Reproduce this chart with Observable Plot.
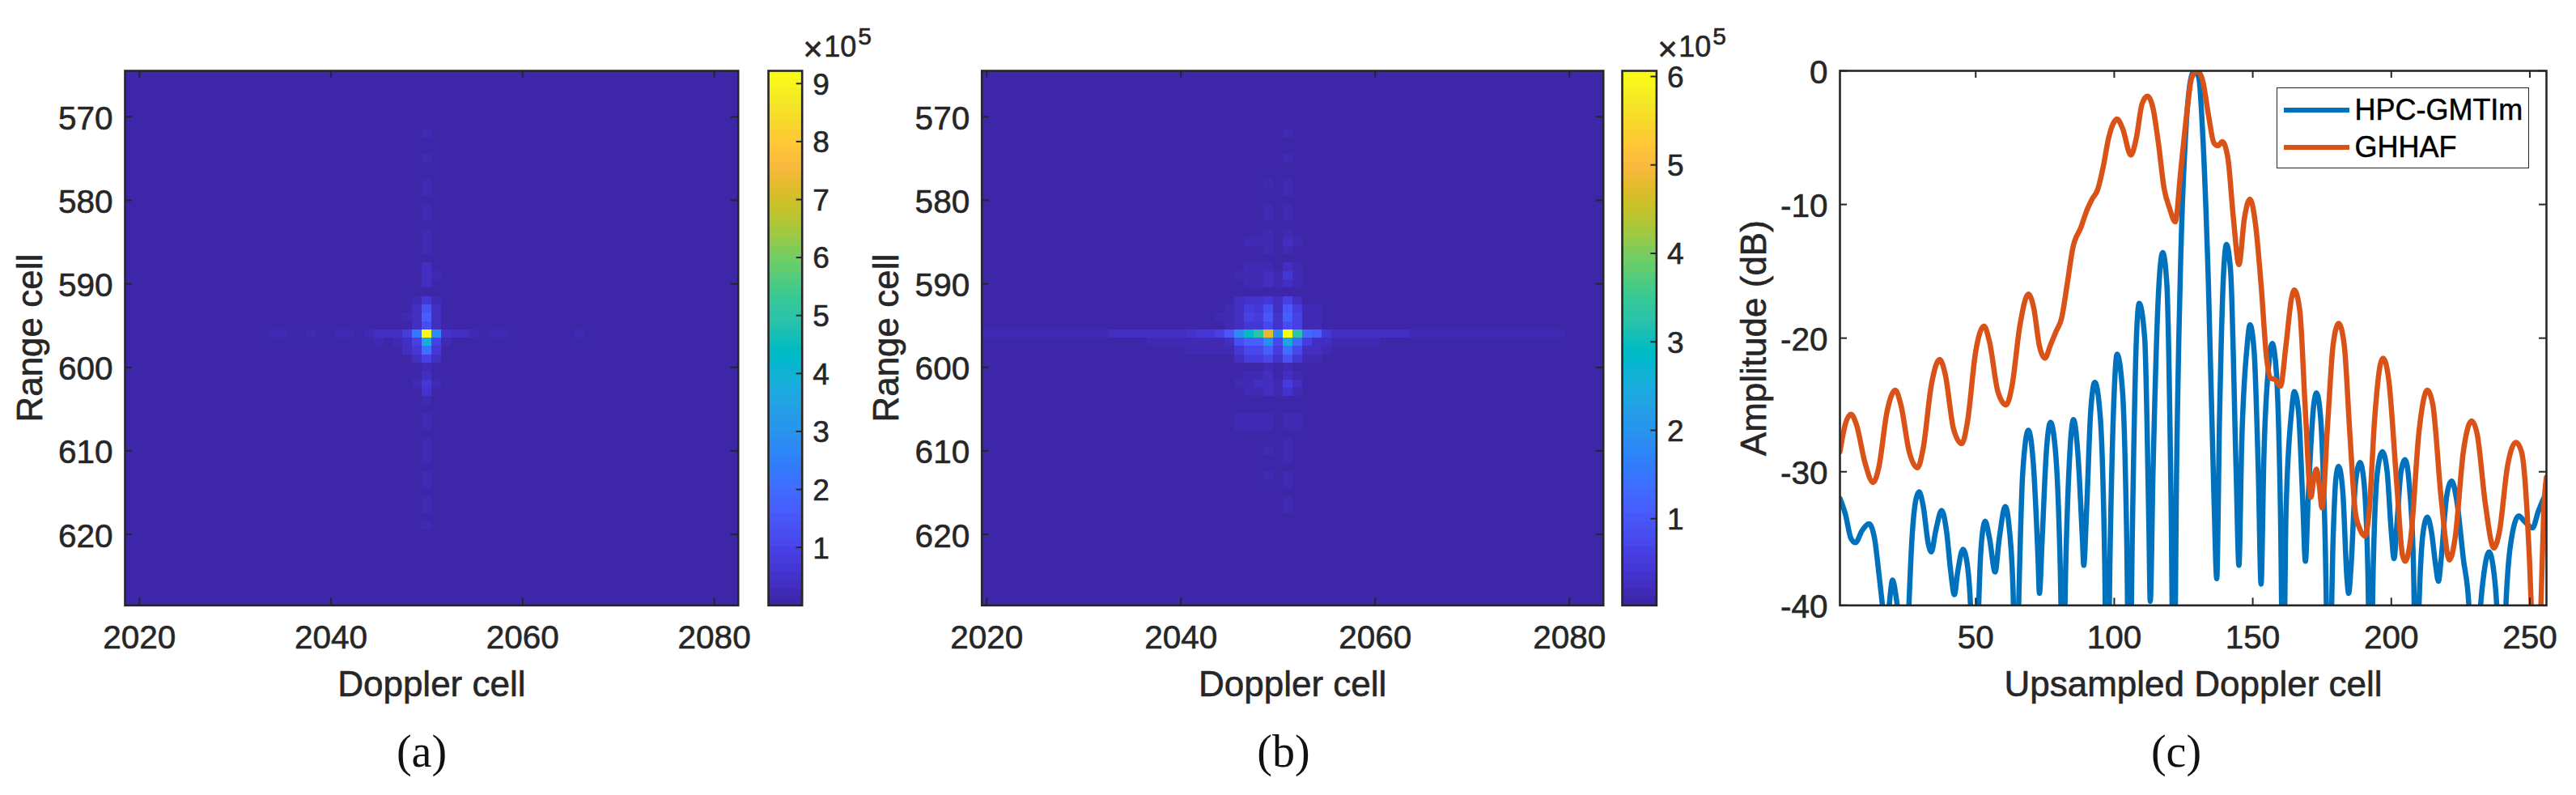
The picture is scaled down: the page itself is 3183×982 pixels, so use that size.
<!DOCTYPE html>
<html>
<head>
<meta charset="utf-8">
<script src="https://cdn.jsdelivr.net/npm/d3@7"></script>
<script src="https://cdn.jsdelivr.net/npm/@observablehq/plot@0.6"></script>
<style>
html,body{margin:0;padding:0;background:#fff;}
#page{position:relative;width:3183px;height:982px;overflow:hidden;background:#fff;font-family:"Liberation Sans",Arial,sans-serif;color:#262626;}
#page svg{position:absolute;background:transparent;overflow:visible;}
#page svg text{stroke:#262626;stroke-width:.6px;}
.t{position:absolute;white-space:nowrap;line-height:1;-webkit-text-stroke:.6px #262626;}
.t span{position:relative;line-height:0;}
.t.cap{font-family:"Liberation Serif",serif;font-size:56px;color:#111;transform:translate(-50%,-50%);-webkit-text-stroke:0;}
#legend{position:absolute;box-sizing:border-box;border:1.5px solid #262626;background:#fff;}
.lg{position:absolute;height:6.5px;}
.lt{position:absolute;font-size:36px;color:#000;line-height:1;white-space:nowrap;-webkit-text-stroke:.5px #000;}
</style>
</head>
<body>
<div id="page"></div>
<script>
// ---------- data ----------
const rangeCells = d3.range(565, 629);
const dopplerCellsA = d3.range(2019, 2083);
const dopplerCellsB = d3.range(2020, 2084);
const dopplerTicks = [2020, 2040, 2060, 2080];
const rangeTicks = [570, 580, 590, 600, 610, 620];
const upsampledTicks = [50, 100, 150, 200, 250];
const amplitudeTicks = [0, -10, -20, -30, -40];
const barTicksA = [1, 2, 3, 4, 5, 6, 7, 8, 9];
const barTicksB = [1, 2, 3, 4, 5, 6];
const backgroundLevel = 0.05;

// [Doppler cell, range cell, value x10^5]
const hotA = [
[2034,596,.16],[2035,596,.16],[2038,596,.16],[2041,596,.2],[2042,596,.2],[2044,596,.2],[2045,596,.3],[2046,596,.3],[2047,596,.4],[2048,596,.73],[2049,596,2.3],[2050,596,9.2],[2051,596,2.8],[2052,596,.5],[2053,596,.3],[2054,596,.3],[2055,596,.2],[2057,596,.2],[2058,596,.2],[2066,596,.16],
[2045,597,.25],[2047,597,.25],[2048,597,.4],[2049,597,.95],[2050,597,3.7],[2051,597,.95],[2052,597,.2],
[2048,598,.3],[2049,598,.6],[2050,598,2.05],[2051,598,.7],
[2049,599,.3],[2050,599,1.0],[2051,599,.35],
[2050,600,.2],[2050,601,.3],[2049,602,.2],[2050,602,.6],[2051,602,.2],[2050,603,.45],[2050,604,.22],
[2050,606,.17],[2050,607,.17],[2050,609,.16],[2050,610,.16],[2050,611,.16],[2050,613,.17],[2050,614,.17],[2050,616,.16],[2050,617,.16],[2050,619,.16],
[2049,595,.35],[2050,595,1.17],[2051,595,.4],
[2048,594,.2],[2049,594,.3],[2050,594,1.6],[2051,594,.4],
[2049,593,.3],[2050,593,1.4],[2051,593,.3],
[2049,592,.25],[2050,592,.66],[2051,592,.25],
[2050,590,.3],[2050,589,.42],[2051,589,.25],[2050,588,.32],[2050,586,.2],[2050,585,.2],[2050,584,.17],
[2050,582,.17],[2050,581,.17],[2050,579,.17],[2050,578,.17],[2050,575,.16],[2050,572,.16]
];

// [Doppler cell, value x10^5] along range cell 596
const ridgeB = [
[2020,.14],[2021,.14],[2022,.14],[2023,.14],[2024,.14],[2025,.14],[2026,.14],[2027,.14],[2028,.14],[2029,.14],[2030,.14],[2031,.14],[2032,.14],
[2033,.24],[2034,.24],[2035,.24],[2036,.24],[2037,.24],[2038,.3],[2039,.3],[2040,.3],[2041,.35],[2042,.4],[2043,.4],[2044,.6],[2045,1.0],[2046,1.85],[2047,2.9],[2048,3.3],[2049,4.8],[2050,1.85],[2051,6.05],[2052,3.3],[2053,1.25],[2054,1.15],[2055,.45],[2056,.3],[2057,.3],[2058,.3],[2059,.24],[2060,.24],[2061,.24],[2062,.24],[2063,.24],
[2064,.14],[2065,.14],[2066,.14],[2067,.14],[2068,.14],[2069,.14],[2070,.14],[2071,.14],[2072,.14],[2073,.14],[2074,.14],[2075,.14],[2076,.14],[2077,.14],[2078,.14],[2079,.14]
];
const hotB = [
[2037,597,.15],[2038,597,.15],[2039,597,.15],[2040,597,.15],[2041,597,.15],[2042,597,.2],[2043,597,.2],[2044,597,.2],[2045,597,.3],[2046,597,.8],[2047,597,1.15],[2048,597,1.15],[2049,597,1.85],[2050,597,.7],[2051,597,2.3],[2052,597,1.25],[2053,597,.5],[2054,597,.3],[2055,597,.25],[2056,597,.12],[2057,597,.12],[2058,597,.12],[2059,597,.12],[2060,597,.12],
[2041,598,.15],[2042,598,.15],[2043,598,.15],[2044,598,.15],[2045,598,.2],[2046,598,.4],[2047,598,.75],[2048,598,.75],[2049,598,1.15],[2050,598,.55],[2051,598,1.35],[2052,598,.75],[2053,598,.3],[2054,598,.25],[2055,598,.2],
[2046,599,.3],[2047,599,.5],[2048,599,.5],[2049,599,.75],[2050,599,.35],[2051,599,.95],[2052,599,.45],[2053,599,.2],[2054,599,.2],
[2049,600,.15],[2051,600,.15],
[2047,601,.12],[2048,601,.12],[2049,601,.25],[2051,601,.3],[2052,601,.15],
[2046,602,.15],[2047,602,.15],[2048,602,.25],[2049,602,.3],[2050,602,.15],[2051,602,.55],[2052,602,.25],
[2047,603,.15],[2048,603,.15],[2049,603,.25],[2050,603,.15],[2051,603,.35],[2052,603,.15],
[2046,606,.14],[2047,606,.14],[2048,606,.14],[2049,606,.14],[2051,606,.16],[2052,606,.14],
[2046,607,.14],[2047,607,.14],[2048,607,.14],[2049,607,.14],[2051,607,.16],[2052,607,.14],
[2051,609,.13],[2051,610,.13],[2049,610,.13],[2051,611,.13],[2051,613,.14],[2049,613,.14],[2051,614,.14],[2051,616,.13],[2051,617,.13],
[2045,595,.15],[2046,595,.3],[2047,595,.45],[2048,595,.45],[2049,595,.7],[2050,595,.35],[2051,595,.85],[2052,595,.6],[2053,595,.2],[2054,595,.2],
[2044,594,.12],[2045,594,.15],[2046,594,.3],[2047,594,.65],[2048,594,.55],[2049,594,1.0],[2050,594,.35],[2051,594,1.15],[2052,594,.6],[2053,594,.2],[2054,594,.2],
[2045,593,.12],[2046,593,.3],[2047,593,.5],[2048,593,.45],[2049,593,.85],[2050,593,.3],[2051,593,1.0],[2052,593,.5],[2053,593,.15],[2054,593,.15],
[2046,592,.25],[2047,592,.35],[2048,592,.35],[2049,592,.45],[2050,592,.25],[2051,592,.6],[2052,592,.3],
[2047,590,.15],[2048,590,.15],[2049,590,.3],[2050,590,.12],[2051,590,.3],[2052,590,.15],
[2046,589,.15],[2047,589,.12],[2048,589,.12],[2049,589,.25],[2050,589,.2],[2051,589,.4],[2052,589,.15],
[2047,588,.15],[2048,588,.15],[2049,588,.15],[2051,588,.3],[2052,588,.15],
[2049,586,.12],[2051,586,.15],[2047,585,.12],[2048,585,.12],[2049,585,.15],[2051,585,.25],[2052,585,.12],
[2049,584,.12],[2051,584,.14],[2049,582,.14],[2051,582,.14],[2049,581,.14],[2051,581,.14],[2051,579,.14],[2049,578,.14],[2051,578,.14],[2051,575,.13],[2051,572,.13]
];

// [upsampled Doppler cell, amplitude dB]
const hpcPoints = [
[1,-32],[3,-33.2],[5,-35],[6.6,-35.3],[9,-34.4],[11.5,-33.9],[13.5,-35],[15,-37.5],[17,-41],[18,-42],[19,-39.5],[20,-38.1],[21,-39],[22.5,-42],[24,-50],[25.5,-42],[27,-35],[28.5,-32],[29.6,-31.5],[31,-32.5],[33,-35.5],[34,-36],[35.5,-34.5],[37.7,-32.9],[39.5,-34.5],[41,-37.5],[42.3,-39.2],[43.5,-37.5],[45.4,-35.8],[47,-37],[48.5,-42],[49.5,-55],[50.8,-42],[52,-35.5],[53.4,-33.7],[55,-35],[57,-37.5],[58.5,-35],[60.7,-32.6],[62,-34],[63.5,-39],[64.5,-50],[65.5,-40],[67,-30],[69,-26.9],[71,-30],[72.5,-36.5],[73,-39.1],[74,-35],[75.5,-28.5],[77,-26.3],[79,-29],[80.5,-37],[81.5,-47],[82.5,-37],[84,-28.5],[85.3,-26.1],[87,-29],[88.5,-35],[89,-37],[90,-33],[91.5,-25.5],[93,-23.3],[95,-26],[96.5,-36],[97.5,-50],[98.5,-36],[100,-24],[101,-21.2],[103,-24],[104.5,-35],[105.5,-50],[106.5,-35],[108,-20],[109,-17.4],[111,-20],[112.5,-34],[113,-39.7],[114,-30],[116,-16.5],[117.5,-13.6],[119,-16],[120.5,-32],[121.5,-50],[122.5,-30],[124,-14],[126,-4],[128,-.3],[129,0],[130.5,-.5],[132,-5],[134,-16],[136,-32],[137,-38],[138,-26],[139.5,-15],[140.5,-13],[142,-15],[144,-30],[145,-37],[146,-28],[148,-20.5],[149,-19],[150.5,-21],[152,-30],[153,-38.4],[154,-29],[156,-21.5],[157,-20.4],[158.5,-22.5],[160,-33],[161,-48],[162,-33],[164,-25.5],[165,-24],[166.5,-25.5],[168,-32],[169,-36.7],[170,-32],[172,-25],[173,-24.1],[174.5,-26],[176,-34],[177.5,-48],[179,-35],[180,-30.5],[181,-29.6],[182.5,-31.5],[184,-38],[184.6,-39.1],[185.5,-37],[187,-31],[188.7,-29.3],[190,-30.5],[191.5,-37],[192.5,-48],[193.5,-37],[195,-30],[196.8,-28.5],[198.5,-30],[200,-34.5],[201,-36.5],[202,-34],[203.5,-30],[205,-29.1],[206.5,-31],[208,-37],[209,-48],[210,-40],[211.5,-34.5],[213,-33.4],[214.5,-34.5],[216,-37],[217,-38.2],[218,-36.5],[220,-31.8],[221.8,-30.7],[223.5,-32],[226,-36.5],[228,-40],[229.5,-50],[231.5,-42],[233.5,-37.5],[235.3,-36],[237,-37.5],[238.5,-42],[239.5,-55],[241,-42],[243,-35.5],[246,-33.3],[248,-33.7],[251,-34.2],[253,-33],[256,-31.5]
];
const ghhafPoints = [
[1,-28.5],[3,-26.4],[5,-25.7],[7,-26.5],[10,-29.3],[13,-30.8],[15,-29.7],[18,-25.5],[21,-23.9],[23,-25],[26,-28.5],[29,-29.7],[31,-28.3],[34,-23.5],[37,-21.6],[39,-22.7],[42,-26.8],[45,-27.9],[47,-26.3],[50,-21],[53,-19.1],[55,-20.3],[58,-24],[61,-25],[63,-23.7],[66,-19],[69,-16.7],[71,-17.8],[73,-20.6],[75,-21.5],[77,-20.5],[79,-19.5],[81,-18.5],[83,-16],[85,-13.3],[88,-11.7],[90,-10.5],[92,-9.6],[94,-8.9],[96,-7.2],[98,-5],[100,-3.8],[101,-3.6],[103,-4.3],[106,-6.3],[108,-5],[110,-2.5],[112,-1.9],[114,-2.8],[116,-5.5],[118,-8.8],[120,-10.3],[122,-11.3],[124,-7.5],[126,-3.5],[128,-.5],[130,0],[132,-.8],[134,-3.3],[136,-5.4],[137.5,-5.6],[139,-5.3],[141,-6.5],[143,-11],[145,-14.5],[147,-11],[149,-9.6],[151,-11.5],[153,-16],[155,-21.5],[156.5,-23],[158,-23.1],[160,-23.6],[162,-20.5],[164,-17],[165,-16.4],[167,-18],[169,-25.5],[171,-31.9],[172,-30.5],[173,-29.8],[174,-31],[175,-32.7],[177,-26.5],[179,-20.5],[181,-18.9],[183,-20.5],[185,-27],[187,-33],[188.5,-34.2],[190.5,-34.8],[192,-33],[194,-26],[196,-22],[197,-21.5],[199,-23],[202,-31],[204,-36.2],[205,-36.7],[207,-35],[210,-27],[213,-23.9],[215,-25],[218,-32],[221,-36.6],[223,-35],[226,-28.5],[229,-26.2],[231,-27.2],[234,-32.5],[237,-35.7],[239,-34.5],[242,-29.5],[245,-27.8],[247,-28.5],[249,-33],[250.5,-40],[251.5,-48],[253,-50],[254,-40],[255,-33],[256,-30.4]
];

const parulaLevels = [
[.2422,.1504,.6603],[.2504,.1650,.7076],[.2578,.1818,.7511],[.2647,.1978,.7952],[.2706,.2147,.8364],[.2751,.2342,.8710],[.2783,.2559,.8991],[.2803,.2782,.9221],
[.2813,.3006,.9414],[.2810,.3228,.9579],[.2795,.3447,.9717],[.2760,.3667,.9829],[.2699,.3892,.9906],[.2602,.4123,.9952],[.2440,.4358,.9988],[.2206,.4603,.9973],
[.1963,.4847,.9892],[.1834,.5074,.9798],[.1786,.5289,.9682],[.1764,.5499,.9520],[.1687,.5703,.9359],[.1540,.5902,.9218],[.1460,.6091,.9079],[.1380,.6276,.8973],
[.1248,.6459,.8883],[.1113,.6635,.8763],[.0952,.6798,.8598],[.0689,.6948,.8394],[.0297,.7082,.8163],[.0036,.7203,.7917],[.0067,.7312,.7660],[.0433,.7411,.7394],
[.0964,.7500,.7120],[.1408,.7584,.6842],[.1717,.7670,.6554],[.1938,.7758,.6251],[.2161,.7843,.5923],[.2470,.7918,.5567],[.2906,.7973,.5188],[.3406,.8008,.4789],
[.3909,.8029,.4354],[.4456,.8024,.3909],[.5044,.7993,.3480],[.5616,.7942,.3045],[.6174,.7876,.2612],[.6720,.7793,.2227],[.7242,.7698,.1910],[.7738,.7598,.1646],
[.8203,.7498,.1535],[.8634,.7406,.1596],[.9035,.7330,.1774],[.9393,.7288,.2100],[.9728,.7298,.2394],[.9956,.7434,.2371],[.9970,.7659,.2199],[.9952,.7893,.2028],
[.9892,.8136,.1885],[.9786,.8386,.1766],[.9676,.8639,.1643],[.9610,.8890,.1537],[.9597,.9135,.1423],[.9628,.9373,.1265],[.9691,.9606,.1064],[.9769,.9839,.0805]
].map(([r,g,b]) => d3.rgb(r*255,g*255,b*255).formatHex());

// ---------- layout / style ----------
const ink = "#262626", frameW = 2.6, tickLen = 9, tickFont = 40.5, labelFont = 44;
const frameTop = 87, frameBottom = 747.3, svgH = 900;
const pageEl = document.getElementById("page");
const place = (el, left) => { el.style.left = left + "px"; el.style.top = "0px"; pageEl.appendChild(el); return el; };
const baseOpts = {height: svgH, marginTop: frameTop, marginBottom: svgH - frameBottom,
  style: {fontFamily: '"Liberation Sans",Arial,sans-serif', color: ink, background: "transparent"}};
const plain = d => String(d);

function heat({left, right, doppler, cells, domain, svgLeft}) {
  const values = new Map(cells.map(([x,y,v]) => [x+"/"+y, v]));
  const grid = [];
  for (const y of rangeCells) for (const x of doppler)
    grid.push({x, y, v: values.get(x+"/"+y) ?? backgroundLevel});
  const H = frameBottom - frameTop;
  const W = right - left;
  const w = 1000;
  return place(Plot.plot({...baseOpts, width: w, marginLeft: left - svgLeft, marginRight: w - (right - svgLeft),
    x: {type:"band", domain: doppler, padding:0, round:false, axis:null},
    y: {type:"band", domain: rangeCells, padding:0, round:false, axis:null},
    color: {type:"quantize", domain, range: parulaLevels},
    marks: [
      Plot.cell(grid, {x:"x", y:"y", fill:"v", shapeRendering:"crispEdges"}),
      Plot.axisX({ticks: dopplerTicks, tickFormat: plain, tickSize:0, tickPadding:24, fontSize:tickFont, label:null, fill:ink}),
      Plot.axisY({ticks: rangeTicks, tickFormat: plain, tickSize:0, tickPadding:15, dy:2.5, fontSize:tickFont, label:null, fill:ink}),
      Plot.tickX(dopplerTicks, {x:d=>d, insetBottom:H-tickLen, stroke:ink, strokeWidth:2}),
      Plot.tickX(dopplerTicks, {x:d=>d, insetTop:H-tickLen, stroke:ink, strokeWidth:2}),
      Plot.tickY(rangeTicks, {y:d=>d, insetRight:W-tickLen, stroke:ink, strokeWidth:2}),
      Plot.tickY(rangeTicks, {y:d=>d, insetLeft:W-tickLen, stroke:ink, strokeWidth:2}),
      Plot.text(["Doppler cell"], {frameAnchor:"bottom", dy:98, lineAnchor:"middle", fontSize:labelFont, fill:ink}),
      Plot.text(["Range cell"], {frameAnchor:"left", textAnchor:"middle", dx:-117, rotate:-90, lineAnchor:"middle", fontSize:labelFont, fill:ink}),
      Plot.frame({stroke:ink, strokeWidth:frameW})
    ]}), svgLeft);
}

function bar({left, right, domain, ticks}) {
  const n = parulaLevels.length;
  const step = (domain[1]-domain[0]) / n;
  const levels = parulaLevels.map((c,i) => ({lo: domain[0]+i*step, hi: domain[0]+(i+1)*step, c}));
  const w = 130;
  const W = right - left;
  return place(Plot.plot({...baseOpts, width:w, marginLeft:0, marginRight:w-W,
    y: {domain, axis:null},
    color: {type:"identity"},
    marks: [
      Plot.rectY(levels, {y1:"lo", y2:"hi", fill:"c", shapeRendering:"crispEdges"}),
      Plot.tickY(ticks, {y:d=>d, insetLeft:W-7, stroke:ink, strokeWidth:2}),
      Plot.axisY({anchor:"right", ticks, tickFormat:plain, tickSize:0, tickPadding:13, dy:1.5, fontSize:37, label:null, fill:ink}),
      Plot.frame({stroke:ink, strokeWidth:frameW})
    ]}), left);
}

function multiplier(barRight) {
  const s = document.createElement("div");
  s.className = "t";
  Object.assign(s.style, {left:(barRight+1.5)+"px", top:"40px", fontSize:"36px"});
  s.innerHTML = '<span style="font-size:42px;top:5.3px;margin-right:1.5px">×</span>10<span style="font-size:30px;top:-14.7px;margin-left:2px">5</span>';
  pageEl.appendChild(s);
}
function caption(txt, x) {
  const s = document.createElement("div");
  s.className = "t cap"; s.textContent = txt; s.style.left = x+"px"; s.style.top = "928px";
  pageEl.appendChild(s);
}

// ---------- panels ----------
heat({left:154, right:911.7, svgLeft:0, doppler:dopplerCellsA, cells:hotA, domain:[0,9.22]});
bar({left:949, right:990.7, domain:[0,9.22], ticks:barTicksA});
multiplier(990.7);

const cellsB = [...ridgeB.map(([x,v]) => [x,596,v]), ...hotB];
heat({left:1212.7, right:1980.7, svgLeft:1040, doppler:dopplerCellsB, cells:cellsB, domain:[.02,6.064]});
bar({left:2004.3, right:2046.7, domain:[.02,6.064], ticks:barTicksB});
multiplier(2046.7);

const series = [
  ...hpcPoints.map(([x,y]) => ({x,y,s:"HPC-GMTIm"})),
  ...ghhafPoints.map(([x,y]) => ({x,y,s:"GHHAF"}))
];
{
  const left = 2273, right = 3146, svgLeft = 2100, w = 1083;
  const H = frameBottom - frameTop, W = right - left;
  place(Plot.plot({...baseOpts, width:w, marginLeft:left-svgLeft, marginRight:w-(right-svgLeft),
    x: {domain:[1,256], axis:null},
    y: {domain:[-40,0], axis:null},
    color: {domain:["HPC-GMTIm","GHHAF"], range:["#0072BD","#D95319"]},
    marks: [
      Plot.axisX({ticks:upsampledTicks, tickFormat:plain, tickSize:0, tickPadding:24, fontSize:tickFont, label:null, fill:ink}),
      Plot.axisY({ticks:amplitudeTicks, tickFormat:plain, tickSize:0, tickPadding:15, dy:2.5, fontSize:tickFont, label:null, fill:ink}),
      Plot.line(series, {x:"x", y:"y", z:"s", stroke:"s", strokeWidth:6.5, curve:"monotone-x", clip:"frame"}),
      Plot.tickX(upsampledTicks, {x:d=>d, insetBottom:H-tickLen, stroke:ink, strokeWidth:2}),
      Plot.tickX(upsampledTicks, {x:d=>d, insetTop:H-tickLen, stroke:ink, strokeWidth:2}),
      Plot.tickY(amplitudeTicks, {y:d=>d, insetRight:W-tickLen, stroke:ink, strokeWidth:2}),
      Plot.tickY(amplitudeTicks, {y:d=>d, insetLeft:W-tickLen, stroke:ink, strokeWidth:2}),
      Plot.text(["Upsampled Doppler cell"], {frameAnchor:"bottom", dy:98, lineAnchor:"middle", fontSize:labelFont, fill:ink}),
      Plot.text(["Amplitude (dB)"], {frameAnchor:"left", textAnchor:"middle", dx:-106, rotate:-90, lineAnchor:"middle", fontSize:labelFont, fill:ink}),
      Plot.frame({stroke:ink, strokeWidth:frameW})
    ]}), svgLeft);
}

// legend
const lg = document.createElement("div");
lg.id = "legend";
Object.assign(lg.style, {left:"2813.4px", top:"108.3px", width:"311.5px", height:"99.6px"});
[["HPC-GMTIm","#0072BD",26.3],["GHHAF","#D95319",72.7]].forEach(([name,col,y]) => {
  const l = document.createElement("div"); l.className = "lg";
  Object.assign(l.style, {left:"8px", width:"81px", top:(y-3)+"px", background:col}); lg.appendChild(l);
  const t = document.createElement("div"); t.className = "lt"; t.textContent = name;
  Object.assign(t.style, {left:"95px", top:(y-18)+"px"}); lg.appendChild(t);
});
pageEl.appendChild(lg);

caption("(a)", 521); caption("(b)", 1586); caption("(c)", 2689);
</script>
</body>
</html>
